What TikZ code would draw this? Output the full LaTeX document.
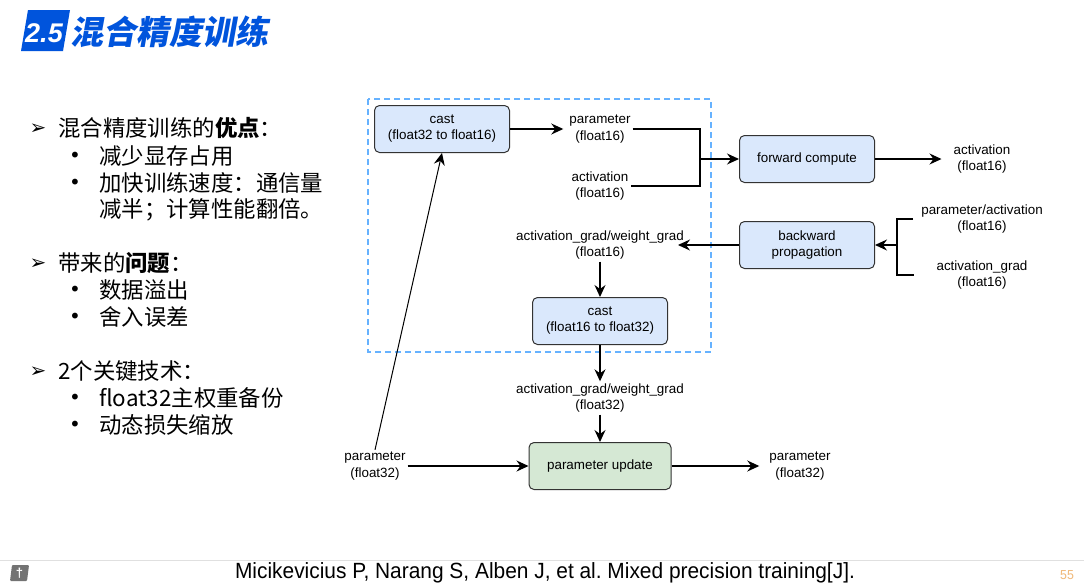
\documentclass[tikz,border=0pt]{standalone}
\usepackage{fontspec}
\setmainfont{Liberation Sans}
\newfontfamily\cjk{Noto Sans CJK SC}
\newfontfamily\cjktitle{Noto Sans CJK SC}[FakeSlant=0.18]
\newfontfamily\dejavu{DejaVu Sans}
\newfontfamily\citefont{Liberation Sans}[FakeStretch=0.95]
\usetikzlibrary{arrows.meta}
\frenchspacing
\definecolor{titleblue}{RGB}{0,84,220}
\definecolor{boxblue}{RGB}{218,232,252}
\definecolor{boxgreen}{RGB}{213,232,212}
\definecolor{dashblue}{RGB}{102,178,255}
\definecolor{pagenum}{RGB}{240,184,120}
\tikzset{
  box/.style={draw=black!80, line width=1pt, rounded corners=5pt, fill=boxblue,
    minimum width=135pt, minimum height=47pt, align=center,
    font=\fontsize{13.4}{16}\selectfont},
  lbl/.style={align=center, inner sep=2pt, font=\fontsize{13.4}{16.5}\selectfont},
  arr/.style={-{Stealth[length=12pt,width=11pt,inset=4pt]}, line width=1.2pt},
  plain/.style={line width=1.2pt},
  ltxt/.style={anchor=west, inner sep=0pt, font=\cjk\fontsize{22.4}{26}\selectfont},
  bul/.style={anchor=center, inner sep=0pt, font=\dejavu\fontsize{20}{22}\selectfont},
  tri/.style={anchor=center, inner sep=0pt, font=\dejavu\fontsize{20}{22}\selectfont}
}
\begin{document}
\begin{tikzpicture}[x=1pt,y=-1pt]
\useasboundingbox (0,0) rectangle (1084,584);
\fill[white] (0,0) rectangle (1084,584);

% title
\fill[titleblue] (28,10) -- (70,10) -- (63,51) -- (21,51) -- cycle;
\node[inner sep=0pt, text=white, font=\bfseries\itshape\fontsize{27}{30}\selectfont] (num) at (44,33) {2.5};
\node[anchor=west, inner sep=0pt, text=titleblue, font=\cjktitle\bfseries\fontsize{33}{36}\selectfont] (title) at (70,32) {混合精度训练};

% left text
\node[tri] (t1) at (38,129) {➢};
\node[ltxt] (l1) at (58,128) {混合精度训练的{\bfseries 优点}：};
\node[bul] (b1) at (75,157) {•};
\node[ltxt] (l2) at (99,156) {减少显存占用};
\node[bul] (b2) at (75,184) {•};
\node[ltxt] (l3) at (99,183) {加快训练速度：通信量};
\node[ltxt] (l4) at (99,210) {减半；计算性能翻倍。};
\node[tri] (t2) at (38,264) {➢};
\node[ltxt] (l5) at (58,263) {带来的{\bfseries 问题}：};
\node[bul] (b3) at (75,291) {•};
\node[ltxt] (l6) at (99,290) {数据溢出};
\node[bul] (b4) at (75,318) {•};
\node[ltxt] (l7) at (99,317) {舍入误差};
\node[tri] (t3) at (38,372) {➢};
\node[ltxt] (l8) at (58,371) {2个关键技术：};
\node[bul] (b5) at (75,399) {•};
\node[ltxt] (l9) at (99,398) {float32主权重备份};
\node[bul] (b6) at (75,426) {•};
\node[ltxt] (l10) at (99,425) {动态损失缩放};

% dashed region
\draw[dashblue, line width=1.6pt, dash pattern=on 6pt off 4pt] (368,99) rectangle (711,352);

% nodes
\node[box] (cast1) at (442,129) {cast\\(float32 to float16)};
\node[lbl] (p16) at (600,129) {parameter\\(float16)};
\node[lbl] (a16) at (600,186) {activation\\(float16)};
\node[box] (fwd) at (807,159) {forward compute};
\node[lbl] (aout) at (982,159) {activation\\(float16)};
\node[box] (bwd) at (807,245) {backward\\propagation};
\node[lbl] (pa) at (982,219) {parameter/activation\\(float16)};
\node[lbl] (ag) at (982,275) {activation\_grad\\(float16)};
\node[lbl] (g16) at (600,245) {activation\_grad/weight\_grad\\(float16)};
\node[box] (cast2) at (600,321) {cast\\(float16 to float32)};
\node[lbl] (g32) at (600,398) {activation\_grad/weight\_grad\\(float32)};
\node[box, fill=boxgreen, minimum width=142pt] (upd) at (600,466) {parameter update};
\node[lbl] (pin) at (375,466) {parameter\\(float32)};
\node[lbl] (pout) at (800,466) {parameter\\(float32)};

\coordinate (j) at (700,159);
\coordinate (k) at (897,245);

% connectors
\draw[arr] (cast1.east) -- ([xshift=-4pt]p16.west);
\draw[plain] (p16.east) -| (j) |- (a16.east);
\draw[arr] (j) -- (fwd.west);
\draw[arr] (fwd.east) -- ([xshift=-10pt]aout.west);
\draw[plain] ([xshift=-6pt]pa.west) -| (k) |- ([xshift=-20pt]ag.west);
\draw[arr] (k) -- (bwd.east);
\draw[arr] (bwd.west) -- ([xshift=-8pt]g16.east);
\draw[arr] (g16.south) -- (cast2.north);
\draw[arr] (cast2.south) -- (g32.north);
\draw[arr] (g32.south) -- (upd.north);
\draw[arr] (pin.east) -- (upd.west);
\draw[arr] (upd.east) -- ([xshift=-8pt]pout.west);
\draw[arr, line width=1pt] (pin.north) -- (cast1.south);

% footer
\draw[black!12, line width=1pt] (0,560) -- (1084,560);
\fill[black!55, rounded corners=1pt] (12,565) -- (29,565) -- (27,581) -- (10,581) -- cycle;
\node[text=white, inner sep=0pt, font=\bfseries\fontsize{13}{13}\selectfont] (icon) at (19.5,573) {†};
\node[inner sep=0pt, font=\citefont\fontsize{22}{24}\selectfont] (cite) at (545,573) {Micikevicius P, Narang S, Alben J, et al. Mixed precision training[J].};
\node[inner sep=0pt, text=pagenum, font=\citefont\fontsize{13}{15}\selectfont] (pg) at (1067,575) {55};
\end{tikzpicture}
\end{document}
